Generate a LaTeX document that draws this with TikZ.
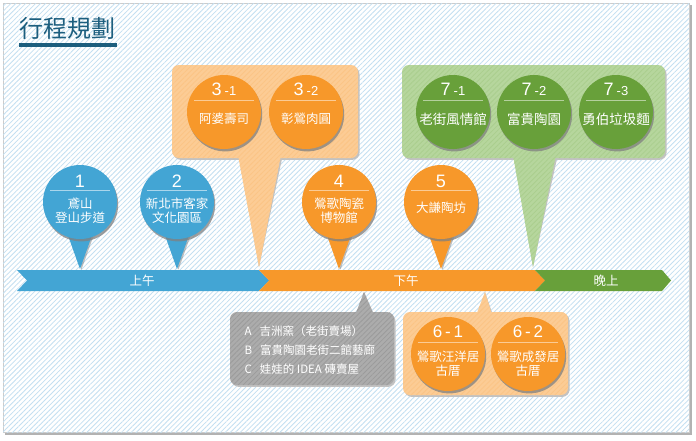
\documentclass[tikz,border=0pt]{standalone}
\usepackage{fontspec}
\setmainfont{Noto Sans CJK TC}
\newfontfamily\numfont{Liberation Sans}
\usetikzlibrary{shadows,patterns.meta}

\definecolor{pinblue}{HTML}{43A5D4}
\definecolor{pinorange}{HTML}{F7982A}
\definecolor{pingreen}{HTML}{68A03A}
\definecolor{tanfill}{HTML}{FCCC95}
\definecolor{sagefill}{HTML}{B6D69D}
\definecolor{notegray}{HTML}{ACACAC}
\definecolor{stripe}{HTML}{C3DFF1}
\definecolor{titleblue}{HTML}{1C5E7E}

\begin{document}
\begin{tikzpicture}[
  x=1pt, y=-1pt,
  lined/.style={postaction={pattern={Lines[angle=45, distance=3.5pt, line width=.8pt]}, pattern color=#1}},
  ball/.style={
    circle,
    minimum size=74pt,
    inner sep=0pt,
    drop shadow={shadow xshift=1.2pt, shadow yshift=-2.4pt, opacity=.75}
  },
  tail/.style={drop shadow={shadow xshift=1.5pt, shadow yshift=-.5pt, opacity=.5}},
  bshadow/.style={fill=black!24, shift={(1.5pt,-1.8pt)}},
  bubble/.style={rounded corners=7pt},
  num/.style={text=white, font=\numfont\fontsize{18}{18}\selectfont},
  lbl/.style={text=white, align=center, font=\fontsize{12.5}{14}\selectfont},
  sep/.style={line width=.8pt},
  period/.style={text=white, font=\fontsize{12.5}{14}\selectfont}
]
\useasboundingbox (0,0) rectangle (696,440);

% frame
\fill[black!30] (5,5) rectangle (692,435);
\draw[black!20, line width=1pt, fill=white, lined=stripe] (3,3) rectangle (689,432);

% title
\node[anchor=base west, inner sep=0pt, text=titleblue, font=\fontsize{24}{24}\selectfont] (title) at (19,37) {行程規劃};
\fill[titleblue] (title.west |- 0,43) rectangle (117,47);

% time line
\fill[pinblue] (17,270) -- (259,270) -- (269,280.5) -- (259,291) -- (17,291) -- (27,280.5) -- cycle;
\fill[pinorange] (259,270) -- (535,270) -- (545,280.5) -- (535,291) -- (259,291) -- (269,280.5) -- cycle;
\fill[pingreen] (535,270) -- (662,270) -- (671,280.5) -- (662,291) -- (535,291) -- (545,280.5) -- cycle;
\node[period] (am) at (142,280.5) {上午};
\node[period] (pm) at (406,280.5) {下午};
\node[period] (night) at (606,280.5) {晚上};

\coordinate (tip1) at (80,269);
\coordinate (tip2) at (177,269);
\coordinate (tip3) at (259,267);
\coordinate (tip4) at (339,269);
\coordinate (tip5) at (441,269);
\coordinate (tip6) at (485,292);
\coordinate (tip7) at (533,267);
\coordinate (tipshop) at (364,292);

% callout shadows
\fill[bshadow, bubble] (172,65) rectangle (358,158);
\fill[bshadow] (237,150) -- (tip3) -- (282,150) -- cycle;
\fill[bshadow, bubble] (402,65) rectangle (665,158);
\fill[bshadow] (512,150) -- (tip7) -- (557,150) -- cycle;
\fill[bshadow, bubble] (230,312) rectangle (394,385);
\fill[bshadow] (354,318) -- (tipshop) -- (375,318) -- cycle;
\fill[bshadow, bubble] (403,312) rectangle (568,395);
\fill[bshadow] (475,318) -- (tip6) -- (493,318) -- cycle;

% callouts
\fill[tanfill, bubble, lined=tanfill!85!pinorange] (172,65) rectangle (358,158);
\fill[tanfill, lined=tanfill!85!pinorange] (237,150) -- (tip3) -- (282,150) -- cycle;
\fill[sagefill, bubble, lined=sagefill!85!pingreen] (402,65) rectangle (665,158);
\fill[sagefill, lined=sagefill!85!pingreen] (512,150) -- (tip7) -- (557,150) -- cycle;
\fill[notegray, bubble, lined=notegray!90!black] (230,312) rectangle (394,385);
\fill[notegray, lined=notegray!90!black] (354,318) -- (tipshop) -- (375,318) -- cycle;
\fill[tanfill, bubble, lined=tanfill!85!pinorange] (403,312) rectangle (568,395);
\fill[tanfill, lined=tanfill!85!pinorange] (475,318) -- (tip6) -- (493,318) -- cycle;

% pins on the time line
\fill[pinblue, tail] ([shift={(-15pt,42pt)}]tip1) -- (tip1) -- ([shift={(15pt,42pt)}]tip1) -- cycle;
\node[ball, fill=pinblue] (p1) at ([yshift=67pt]tip1) {};
\fill[pinblue, tail] ([shift={(-15pt,42pt)}]tip2) -- (tip2) -- ([shift={(15pt,42pt)}]tip2) -- cycle;
\node[ball, fill=pinblue] (p2) at ([yshift=67pt]tip2) {};
\fill[pinorange, tail] ([shift={(-15pt,42pt)}]tip4) -- (tip4) -- ([shift={(15pt,42pt)}]tip4) -- cycle;
\node[ball, fill=pinorange] (p4) at ([yshift=67pt]tip4) {};
\fill[pinorange, tail] ([shift={(-15pt,42pt)}]tip5) -- (tip5) -- ([shift={(15pt,42pt)}]tip5) -- cycle;
\node[ball, fill=pinorange] (p5) at ([yshift=67pt]tip5) {};

% circles in the callouts
\node[ball, fill=pinorange] (p31) at (224,112) {};
\node[ball, fill=pinorange] (p32) at (306,112) {};
\node[ball, fill=pingreen] (p71) at (453,112) {};
\node[ball, fill=pingreen] (p72) at (534,112) {};
\node[ball, fill=pingreen] (p73) at (616,112) {};
\node[ball, fill=pinorange] (p61) at (448,354) {};
\node[ball, fill=pinorange] (p62) at (528,354) {};

% texts
\node[num] (n1) at ([yshift=21pt]p1) {1};
\draw[sep, pinblue!45!white] ([shift={(-30pt,12pt)}]p1.center) -- ([shift={(30pt,12pt)}]p1.center);
\node[lbl] (l1) at ([yshift=-9pt]p1) {鳶山\\登山步道};
\node[num] (n2) at ([yshift=21pt]p2) {2};
\draw[sep, pinblue!45!white] ([shift={(-30pt,12pt)}]p2.center) -- ([shift={(30pt,12pt)}]p2.center);
\node[lbl] (l2) at ([yshift=-9pt]p2) {新北市客家\\文化園區};
\node[num] (n4) at ([yshift=21pt]p4) {4};
\draw[sep, pinorange!50!white] ([shift={(-30pt,12pt)}]p4.center) -- ([shift={(30pt,12pt)}]p4.center);
\node[lbl] (l4) at ([yshift=-9pt]p4) {鶯歌陶瓷\\博物館};
\node[num] (n5) at ([yshift=21pt]p5) {5};
\draw[sep, pinorange!50!white] ([shift={(-30pt,12pt)}]p5.center) -- ([shift={(30pt,12pt)}]p5.center);
\node[lbl] (l5) at ([yshift=-6pt]p5) {大謙陶坊};

\node[num] (n31) at ([yshift=23pt]p31) {3\,\fontsize{13}{13}\selectfont-1};
\draw[sep, pinorange!50!white] ([shift={(-30pt,12pt)}]p31.center) -- ([shift={(30pt,12pt)}]p31.center);
\node[lbl] (l31) at ([yshift=-7pt]p31) {阿婆壽司};
\node[num] (n32) at ([yshift=23pt]p32) {3\,\fontsize{13}{13}\selectfont-2};
\draw[sep, pinorange!50!white] ([shift={(-30pt,12pt)}]p32.center) -- ([shift={(30pt,12pt)}]p32.center);
\node[lbl] (l32) at ([yshift=-7pt]p32) {彰鶯肉圓};

\node[num] (n71) at ([yshift=23pt]p71) {7\,\fontsize{13}{13}\selectfont-1};
\draw[sep, pingreen!50!white] ([shift={(-30pt,12pt)}]p71.center) -- ([shift={(30pt,12pt)}]p71.center);
\node[lbl, font=\fontsize{13.5}{14}\selectfont] (l71) at ([yshift=-7pt]p71) {老街風情館};
\node[num] (n72) at ([yshift=23pt]p72) {7\,\fontsize{13}{13}\selectfont-2};
\draw[sep, pingreen!50!white] ([shift={(-30pt,12pt)}]p72.center) -- ([shift={(30pt,12pt)}]p72.center);
\node[lbl, font=\fontsize{13.5}{14}\selectfont] (l72) at ([yshift=-7pt]p72) {富貴陶園};
\node[num] (n73) at ([yshift=23pt]p73) {7\,\fontsize{13}{13}\selectfont-3};
\draw[sep, pingreen!50!white] ([shift={(-30pt,12pt)}]p73.center) -- ([shift={(30pt,12pt)}]p73.center);
\node[lbl, font=\fontsize{13.5}{14}\selectfont] (l73) at ([yshift=-7pt]p73) {勇伯垃圾麵};

\node[num, font=\numfont\fontsize{17}{17}\selectfont] (n61) at ([yshift=22pt]p61) {6\,-\,1};
\draw[sep, pinorange!50!white] ([shift={(-30pt,12pt)}]p61.center) -- ([shift={(30pt,12pt)}]p61.center);
\node[lbl] (l61) at ([yshift=-10pt]p61) {鶯歌汪洋居\\古厝};
\node[num, font=\numfont\fontsize{17}{17}\selectfont] (n62) at ([yshift=22pt]p62) {6\,-\,2};
\draw[sep, pinorange!50!white] ([shift={(-30pt,12pt)}]p62.center) -- ([shift={(30pt,12pt)}]p62.center);
\node[lbl] (l62) at ([yshift=-10pt]p62) {鶯歌成發居\\古厝};

\node[anchor=west, text=white, align=left, font=\fontsize{11.5}{19}\selectfont] (shops) at (241,350)
  {A\hspace{8pt}吉洲窯（老街賣場）\\B\hspace{8pt}富貴陶園老街二館藝廊\\C\hspace{8pt}娃娃的 IDEA 磚賣屋};
\end{tikzpicture}
\end{document}
